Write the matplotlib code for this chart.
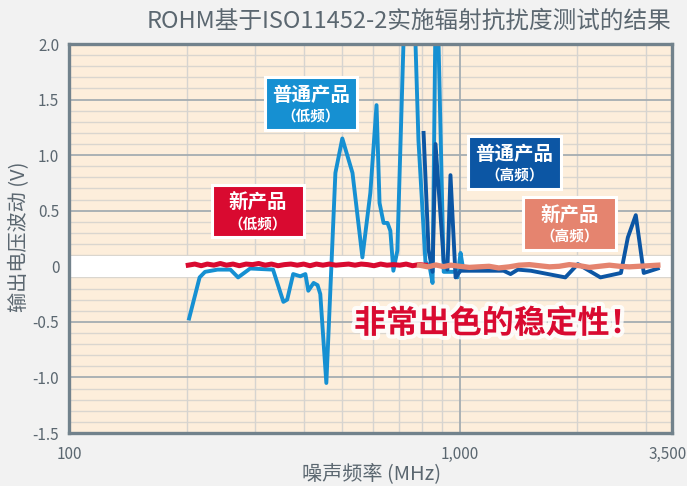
import matplotlib
matplotlib.use("Agg")
import matplotlib.pyplot as plt
import matplotlib.patheffects as pe
import matplotlib.transforms as mtransforms
from matplotlib.patches import Rectangle
import numpy as np

plt.rcParams['font.family'] = ['Noto Sans CJK SC', 'DejaVu Sans']

# ---------------- data ----------------
title = "ROHM基于ISO11452-2实施辐射抗扰度测试的结果"
xlabel = "噪声频率 (MHz)"
ylabel = "输出电压波动 (V)"
x_ticks = [100, 1000, 3500]
x_ticklabels = ["100", "1,000", "3,500"]
y_ticks = [2.0, 1.5, 1.0, 0.5, 0.0, -0.5, -1.0, -1.5]
y_ticklabels = ["2.0", "1.5", "1.0", "0.5", "0", "-0.5", "-1.0", "-1.5"]

# conventional product, low frequency (light blue)
std_low_f = [203, 216, 223, 240, 259, 271, 291, 333, 354, 362, 375, 391, 403, 410, 423,
             433, 440, 456, 481, 501, 532, 564, 591, 613, 624, 639, 654, 665, 677, 693,
             744, 785, 818, 838, 853, 872, 911, 977, 988, 1006, 1019]
std_low_v = [-0.47, -0.10, -0.05, -0.03, -0.03, -0.10, -0.02, -0.03, -0.32, -0.30, -0.07,
             -0.09, -0.07, -0.22, -0.15, -0.17, -0.25, -1.05, 0.84, 1.15, 0.84, 0.08, 0.66,
             1.45, 0.57, 0.39, 0.39, 0.32, -0.04, 0.14, 3.8, 1.13, 0.04, 0.0, -0.15, 2.9,
             -0.05, -0.05, -0.10, 0.12, 0.0]

# conventional product, high frequency (dark blue)
std_high_f = [809, 833, 853, 868, 911, 931, 948, 977, 1006, 1180, 1297, 1351, 1410, 1522,
              1866, 2009, 2295, 2590, 2698, 2827, 2963, 3219]
std_high_v = [1.2, 0.15, -0.05, 1.1, 0.05, -0.03, 0.82, -0.10, -0.04, -0.04, -0.04, -0.07,
              -0.03, -0.04, -0.10, 0.02, -0.10, -0.06, 0.26, 0.46, -0.06, -0.02]

# new product, low frequency (red)
new_low_f = [202, 210, 218, 226, 235, 244, 253, 263, 273, 284, 295, 306, 318, 330, 343, 356,
             370, 384, 399, 414, 430, 447, 464, 482, 500, 520, 540, 560, 582, 604, 628, 652,
             677, 703, 730, 758, 787, 818]
new_low_v = [0.01, 0.02, 0.005, 0.02, 0.01, 0.025, 0.01, 0.02, 0.005, 0.02, 0.015, 0.025,
             0.01, 0.02, 0.005, 0.015, 0.02, 0.01, 0.02, 0.005, 0.02, 0.01, 0.02, 0.01, 0.015,
             0.02, 0.01, 0.02, 0.015, 0.005, 0.02, 0.01, 0.015, 0.01, 0.02, 0.005, 0.015, 0.01]

# new product, high frequency (salmon)
new_high_f = [790, 830, 870, 910, 950, 1000, 1060, 1120, 1190, 1260, 1340, 1420, 1510, 1600,
              1700, 1800, 1910, 2030, 2150, 2280, 2420, 2570, 2720, 2880, 3050, 3220]
new_high_v = [0.01, -0.005, 0.012, -0.003, 0.01, 0.0, -0.01, -0.005, 0.0, -0.015, -0.005,
              0.01, 0.015, 0.005, -0.005, 0.0, 0.015, 0.005, -0.01, 0.0, 0.01, 0.0, -0.005,
              0.0, 0.005, 0.01]

# ---------------- figure ----------------
W, H = 687, 486
fig = plt.figure(figsize=(W / 100, H / 100), dpi=100, facecolor='#f2f2f2')
ax = fig.add_axes([69 / W, 1 - 433 / H, (672 - 69) / W, (433 - 44) / H])
ax.set_facecolor('#fdeedb')
ax.set_xscale('log')
ax.set_xlim(100, 3500)
ax.set_ylim(-1.5, 2.0)

TXT = '#5b6770'
C_LB = '#1690d2'
C_DB = '#0c56a4'
C_RED = '#d90a30'
C_SAL = '#e5846f'

# grid
for yv in np.arange(-1.4, 2.0, 0.1):
    if abs(round(yv * 2) - yv * 2) < 1e-6:
        continue
    ax.axhline(yv, color='#dad6cf', lw=1.0, zorder=0.5)
for yv in [-1.0, -0.5, 0.5, 1.0, 1.5]:
    ax.axhline(yv, color='#a5adb2', lw=1.3, zorder=0.6)
for xv in [200, 300, 400, 500, 600, 700, 800, 900, 2000, 3000]:
    ax.axvline(xv, color='#d6d4d0', lw=1.0, zorder=0.55)
ax.axvline(1000, color='#a5adb2', lw=1.3, zorder=0.6)
ax.axhspan(-0.095, 0.095, color='white', lw=0, zorder=0.7)

# lines
ax.plot(std_low_f, std_low_v, color=C_LB, lw=2.8, zorder=2, solid_joinstyle='round')
ax.plot(std_high_f, std_high_v, color=C_DB, lw=2.8, zorder=2.2, solid_joinstyle='round')
ax.plot(new_low_f, new_low_v, color=C_RED, lw=3.6, zorder=2.5, solid_joinstyle='round')
ax.plot(new_high_f, new_high_v, color=C_SAL, lw=3.8, zorder=2.6, solid_joinstyle='round')

# spines / ticks
for s in ax.spines.values():
    s.set_color('#72828c')
    s.set_linewidth(2.4)
    s.set_zorder(5)
ax.set_xticks(x_ticks)
ax.set_xticklabels(x_ticklabels)
ax.xaxis.set_minor_locator(matplotlib.ticker.NullLocator())
ax.set_yticks(y_ticks)
ax.set_yticklabels(y_ticklabels)
ax.tick_params(axis='both', length=0, labelsize=11, labelcolor=TXT)
ax.tick_params(axis='y', pad=7)
ax.tick_params(axis='x', pad=9)

# keep the last x tick label inside the figure
last = ax.get_xticklabels()[-1]
last.set_horizontalalignment('right')
last.set_transform(last.get_transform() +
                   mtransforms.ScaledTranslation(15 / 100, 0, fig.dpi_scale_trans))

fig.text(372 / W, 1 - 474 / H, xlabel, ha='center', va='center', fontsize=14.5, color=TXT)
fig.text(20 / W, 1 - 237 / H, ylabel, ha='center', va='center', rotation=90,
         fontsize=14.5, color=TXT)
fig.text(671 / W, 1 - 21 / H, title, ha='right', va='center', fontsize=17, color=TXT)


def box(x0, y0, x1, y1, color, line1, line2, y_l1, y_l2):
    r = Rectangle((x0 / W, 1 - y1 / H), (x1 - x0) / W, (y1 - y0) / H,
                  transform=fig.transFigure, facecolor=color, edgecolor='white',
                  lw=2.2, zorder=10)
    fig.add_artist(r)
    cx = (x0 + x1) / 2 / W
    fig.text(cx, 1 - y_l1 / H, line1, ha='center', va='center', fontsize=14,
             fontweight='bold', color='white', zorder=11)
    fig.text(cx, 1 - y_l2 / H, line2, ha='center', va='center', fontsize=10.5,
             fontweight='bold', color='white', zorder=11)


box(265, 77, 357, 130, C_LB, "普通产品", "（低频）", 95, 116)
box(212, 185, 304, 237, C_RED, "新产品", "（低频）", 203, 224)
box(468, 136, 561, 189, C_DB, "普通产品", "（高频）", 154, 175)
box(523, 197, 616, 250, C_SAL, "新产品", "（高频）", 215, 236)

fig.text(498 / W, 1 - 324 / H, "非常出色的稳定性！", ha='center', va='center',
         fontsize=23, fontweight='bold', color=C_RED, zorder=12,
         path_effects=[pe.withStroke(linewidth=6, foreground='white', alpha=0.85)])

fig.savefig('out.png', dpi=100, facecolor=fig.get_facecolor())
